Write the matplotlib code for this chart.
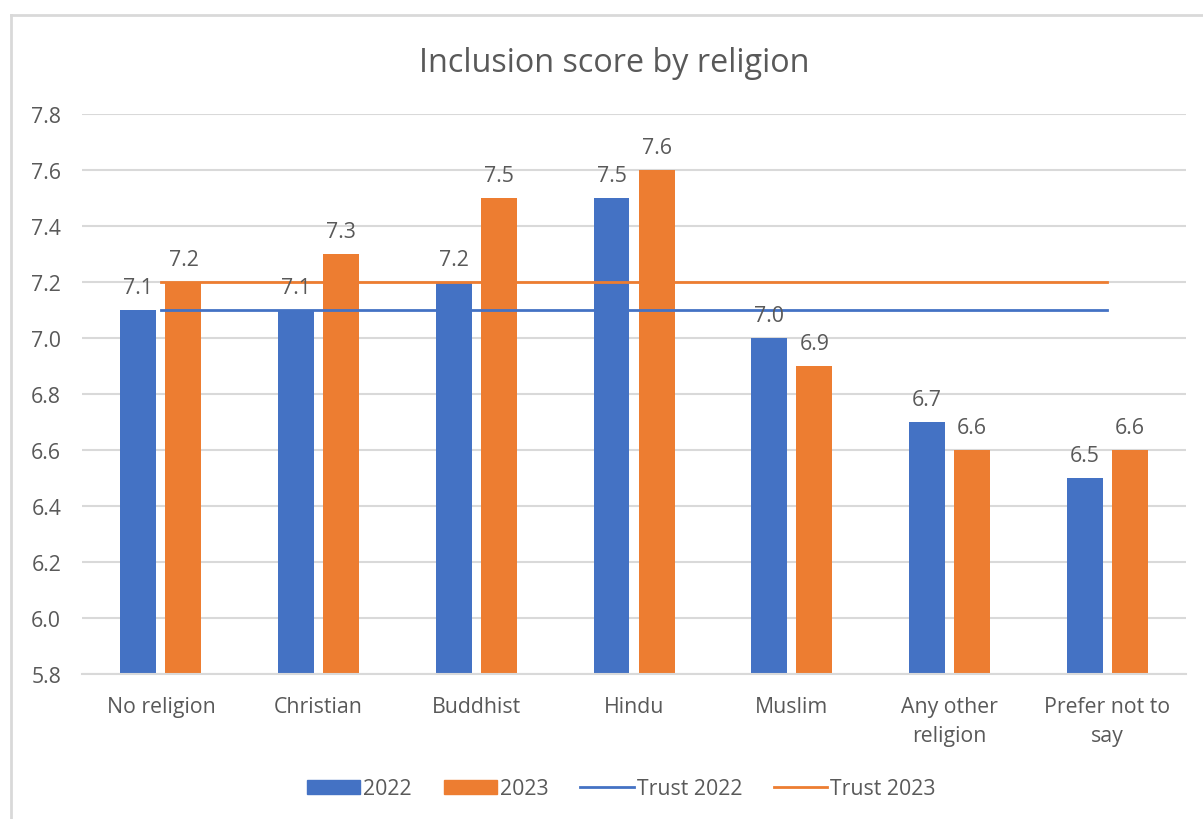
import matplotlib
matplotlib.use("Agg")
import matplotlib.pyplot as plt
import numpy as np
from matplotlib.lines import Line2D
from matplotlib.patches import Patch

categories = ["No religion", "Christian", "Buddhist", "Hindu", "Muslim",
              "Any other\nreligion", "Prefer not to\nsay"]
score_2022 = [7.1, 7.1, 7.2, 7.5, 7.0, 6.7, 6.5]
score_2023 = [7.2, 7.3, 7.5, 7.6, 6.9, 6.6, 6.6]
trust_2022 = 7.1
trust_2023 = 7.2
y_ticks = [5.8, 6.0, 6.2, 6.4, 6.6, 6.8, 7.0, 7.2, 7.4, 7.6, 7.8]

BLUE = "#4472C4"
ORANGE = "#ED7D31"
TEXT = "#595959"
GRID = "#D9D9D9"

plt.rcParams["font.family"] = ["Open Sans", "DejaVu Sans"]
FS = 15.3

fig = plt.figure(figsize=(12.03, 8.2), dpi=100)
ax = fig.add_axes([0.0682, 0.1768, 0.9177, 0.683])

x = np.arange(len(categories))
w = 0.228
off = 0.143
ax.bar(x - off, score_2022, width=w, bottom=0, color=BLUE, zorder=2)
ax.bar(x + off, score_2023, width=w, bottom=0, color=ORANGE, zorder=2)

ax.plot([x[0], x[-1]], [trust_2022, trust_2022], color=BLUE, lw=2, zorder=3)
ax.plot([x[0], x[-1]], [trust_2023, trust_2023], color=ORANGE, lw=2, zorder=3)

for xs, vals in ((x - off, score_2022), (x + off, score_2023)):
    for xi, v in zip(xs, vals):
        ax.annotate(f"{v:.1f}", (xi, v), xytext=(0, 8.5), textcoords="offset points",
                    ha="center", va="bottom", fontsize=FS, color=TEXT, zorder=4)

ax.set_xlim(-0.5, len(categories) - 0.5)
ax.set_ylim(5.8, 7.8)
ax.set_yticks(y_ticks)
ax.set_yticklabels([f"{t:.1f}" for t in y_ticks])
ax.set_xticks(x)
ax.set_xticklabels(categories, linespacing=1.5)
ax.tick_params(axis="both", length=0, colors=TEXT, labelsize=FS)
ax.tick_params(axis="x", pad=16)
ax.tick_params(axis="y", pad=15)
ax.yaxis.grid(True, color=GRID, lw=1.5, zorder=0)
ax.set_axisbelow(True)
for s in ("top", "right", "left"):
    ax.spines[s].set_visible(False)
ax.spines["bottom"].set_color(GRID)
ax.spines["bottom"].set_linewidth(1.5)

fig.text(0.511, 0.922, "Inclusion score by religion", ha="center", va="center",
         fontsize=23.3, color=TEXT)

handles = [Patch(color=BLUE, label="2022"), Patch(color=ORANGE, label="2023"),
           Line2D([], [], color=BLUE, lw=2, label="Trust 2022"),
           Line2D([], [], color=ORANGE, lw=2, label="Trust 2023")]
fig.legend(handles=handles, loc="center", bbox_to_anchor=(0.5165, 0.037), ncol=4,
           frameon=False, fontsize=FS, labelcolor=TEXT, handlelength=2.5,
           handleheight=0.65, columnspacing=1.5, handletextpad=0.15)

# chart frame (left and top edges)
fig.add_artist(Line2D([0.0095, 0.0095], [0, 0.981], transform=fig.transFigure,
                      color=GRID, lw=2))
fig.add_artist(Line2D([0.0095, 1.0], [0.981, 0.981], transform=fig.transFigure,
                      color=GRID, lw=2))

fig.savefig("out.png", dpi=100, facecolor="white")
